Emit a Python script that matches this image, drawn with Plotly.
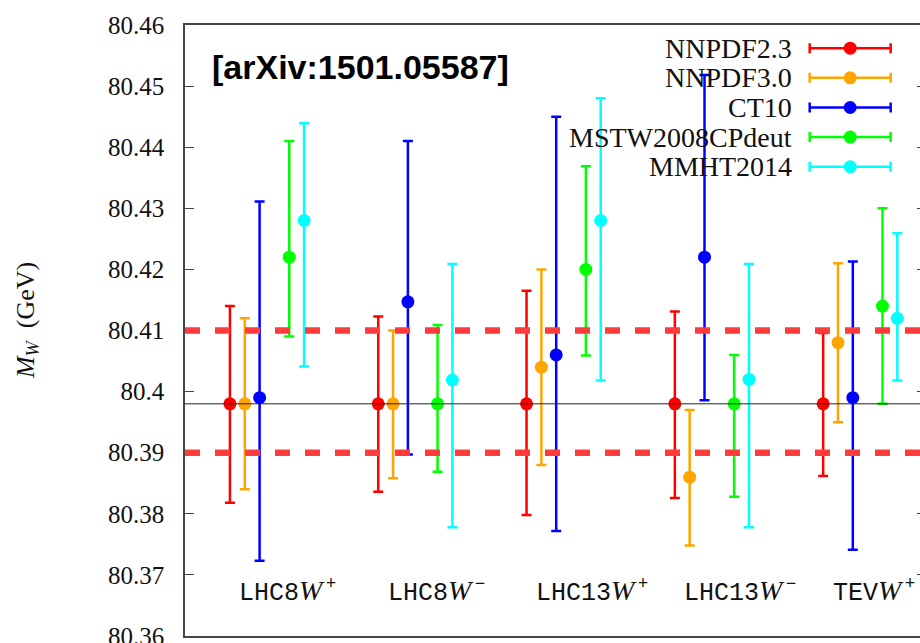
import plotly.graph_objects as go

# ---- data -------------------------------------------------------------
categories = ["LHC8", "LHC8", "LHC13", "LHC13", "TEV"]
charges = ["+", "\u2212", "+", "\u2212", "+"]

pdf_sets = ["NNPDF2.3", "NNPDF3.0", "CT10", "MSTW2008CPdeut", "MMHT2014"]

nnpdf23_mw = [80.398, 80.398, 80.398, 80.398, 80.398]
nnpdf23_hi = [80.4140, 80.4123, 80.4165, 80.4131, 80.4096]
nnpdf23_lo = [80.3818, 80.3836, 80.3798, 80.3826, 80.3862]

nnpdf30_mw = [80.398, 80.398, 80.404, 80.386, 80.408]
nnpdf30_hi = [80.4120, 80.4100, 80.4200, 80.3970, 80.4210]
nnpdf30_lo = [80.3840, 80.3858, 80.3880, 80.3748, 80.3950]

ct10_mw = [80.399, 80.4147, 80.406, 80.422, 80.399]
ct10_hi = [80.4311, 80.4410, 80.4450, 80.4518, 80.4213]
ct10_lo = [80.3723, 80.3897, 80.3772, 80.3986, 80.3741]

mstw_mw = [80.422, 80.398, 80.420, 80.398, 80.414]
mstw_hi = [80.4410, 80.4109, 80.4369, 80.4060, 80.4300]
mstw_lo = [80.4090, 80.3869, 80.4059, 80.3828, 80.3980]

mmht_mw = [80.428, 80.4019, 80.428, 80.402, 80.412]
mmht_hi = [80.4439, 80.4209, 80.4480, 80.4209, 80.4259]
mmht_lo = [80.4041, 80.3778, 80.4018, 80.3778, 80.4018]

reference_mw = 80.398
band_edges = [80.41, 80.39]

y_ticks = [80.36, 80.37, 80.38, 80.39, 80.40, 80.41, 80.42, 80.43, 80.44, 80.45, 80.46]
y_tick_text = ["80.36", "80.37", "80.38", "80.39", "80.4", "80.41", "80.42",
               "80.43", "80.44", "80.45", "80.46"]

arxiv_tag = "[arXiv:1501.05587]"

# ---- styling ----------------------------------------------------------
colors = ["#ff0000", "#ffa500", "#0000ff", "#00ff00", "#00ffff"]
offsets = [-0.25, -0.15, -0.05, 0.15, 0.25]
serif = "Liberation Serif"
mono = "Liberation Mono"

series = [
    (nnpdf23_mw, nnpdf23_hi, nnpdf23_lo),
    (nnpdf30_mw, nnpdf30_hi, nnpdf30_lo),
    (ct10_mw, ct10_hi, ct10_lo),
    (mstw_mw, mstw_hi, mstw_lo),
    (mmht_mw, mmht_hi, mmht_lo),
]

fig = go.Figure()

for name, color, off, (mw, hi, lo) in zip(pdf_sets, colors, offsets, series):
    xs = [i + 1 + off for i in range(len(mw))]
    fig.add_trace(go.Scatter(
        x=xs, y=mw, mode="markers", name=name, showlegend=False,
        marker=dict(color=color, size=13, line=dict(width=0)),
        error_y=dict(type="data", symmetric=False,
                     array=[h - m for h, m in zip(hi, mw)],
                     arrayminus=[m - l for m, l in zip(mw, lo)],
                     color=color, thickness=2.5, width=5),
    ))

# legend keys drawn on an overlay axis (0..1 in both directions)
leg_x_key = 0.905
leg_x_text = 0.829
leg_y0 = 0.962
leg_dy = 0.0485
for k, (name, color) in enumerate(zip(pdf_sets, colors)):
    yk = leg_y0 - k * leg_dy
    fig.add_trace(go.Scatter(
        x=[leg_x_key], y=[yk], xaxis="x2", yaxis="y2", mode="markers",
        showlegend=False, hoverinfo="skip",
        marker=dict(color=color, size=13),
        error_x=dict(type="constant", value=0.0551, color=color,
                     thickness=2.5, width=5),
    ))
    fig.add_annotation(x=leg_x_text, y=yk, xref="paper", yref="paper",
                       text=name, showarrow=False, xanchor="right",
                       yanchor="middle",
                       font=dict(family=serif, size=28, color="#111"))

# mirrored right-hand ticks
fig.add_trace(go.Scatter(x=[1], y=[reference_mw], yaxis="y3", mode="markers",
                         marker=dict(opacity=0), showlegend=False,
                         hoverinfo="skip"))

# reference line and band edges
fig.add_hline(y=reference_mw, line=dict(color="#222", width=1), layer="above")
for yb in band_edges:
    fig.add_hline(y=yb, line=dict(color="#ff3b3b", width=6.5, dash="15px,15px"),
                  layer="above")

# category labels inside the frame
for i, (cat, q) in enumerate(zip(categories, charges)):
    fig.add_annotation(
        x=i + 1 - 0.2, y=80.3674, xref="x", yref="y",
        text=(f"{cat}<span style=\"font-family:{serif};font-size:28px\"><i>W</i>"
              f"</span><sup>\u2009{q}</sup>"),
        showarrow=False, xanchor="left", yanchor="middle",
        font=dict(family=mono, size=25, color="#111"))

fig.add_annotation(x=0.034, y=0.931, xref="paper", yref="paper",
                   text=f"<b>{arxiv_tag}</b>", showarrow=False,
                   xanchor="left", yanchor="middle",
                   font=dict(family="Liberation Sans", size=34, color="#000"))

fig.add_annotation(x=-0.215, y=0.517, xref="paper", yref="paper",
                   text="<i>M</i><sub><i>W</i></sub>  (GeV)", textangle=-90,
                   showarrow=False, xanchor="center", yanchor="middle",
                   font=dict(family=serif, size=26, color="#111"))

fig.update_layout(
    width=920, height=643,
    margin=dict(l=185, r=0, t=25, b=7, autoexpand=False),
    paper_bgcolor="white", plot_bgcolor="white",
    showlegend=False,
    font=dict(family=serif, size=25, color="#111"),
    xaxis=dict(range=[0.447, 5.403], showticklabels=False, ticks="",
               showgrid=False, zeroline=False, showline=True,
               linecolor="#444", linewidth=1.5, mirror=True, automargin=False),
    yaxis=dict(range=[80.36, 80.46], tickvals=y_ticks, ticktext=y_tick_text,
               ticks="inside", ticklen=9, tickwidth=1, tickcolor="#444",
               showgrid=False, zeroline=False, showline=True,
               linecolor="#444", linewidth=1.5, ticklabelstandoff=14,
               ticklabeloverflow="allow", automargin=False,
               tickfont=dict(family="Liberation Serif, Times New Roman, serif",
                             size=25, color="#111")),
    xaxis2=dict(overlaying="x", anchor="y2", range=[0, 1], visible=False),
    yaxis2=dict(overlaying="y", anchor="x2", range=[0, 1], visible=False),
    yaxis3=dict(overlaying="y", side="right", anchor="x",
                range=[80.36, 80.46], tickvals=y_ticks, showticklabels=False,
                ticks="inside", ticklen=3, tickcolor="#444", showline=False,
                showgrid=False, zeroline=False, automargin=False),
)

fig.write_html("out.html")
